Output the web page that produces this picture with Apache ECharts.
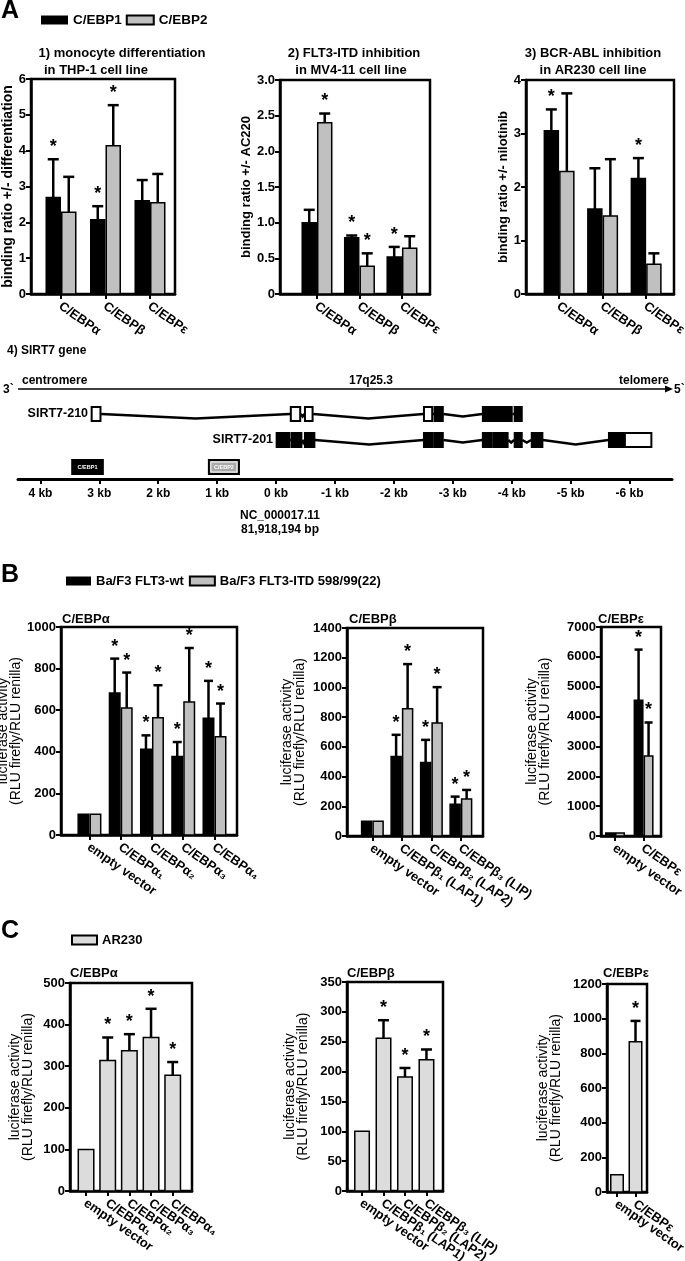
<!DOCTYPE html>
<html><head><meta charset="utf-8">
<script src="https://cdn.jsdelivr.net/npm/echarts@6/dist/echarts.min.js"></script>
<style>html,body{margin:0;padding:0;background:#fff}#c{width:685px;height:1261px}</style>
</head><body><div id="c"></div>
<script>
// ================= DATA =================
// Panel A : binding ratios
const aCats = ['C/EBPα', 'C/EBPβ', 'C/EBPε'];
const a1Ebp1 = [2.69, 2.07, 2.60];
const a1Ebp1Err = [3.76, 2.45, 3.18];
const a1Ebp1Star = [1, 1, 0];
const a1Ebp2 = [2.28, 4.14, 2.55];
const a1Ebp2Err = [3.27, 5.27, 3.35];
const a1Ebp2Star = [0, 1, 0];
const a2Ebp1 = [1.00, 0.79, 0.52];
const a2Ebp1Err = [1.18, 0.82, 0.66];
const a2Ebp1Star = [0, 1, 1];
const a2Ebp2 = [2.40, 0.39, 0.64];
const a2Ebp2Err = [2.53, 0.57, 0.81];
const a2Ebp2Star = [1, 1, 0];
const a3Ebp1 = [3.05, 1.59, 2.16];
const a3Ebp1Err = [3.45, 2.35, 2.54];
const a3Ebp1Star = [1, 0, 1];
const a3Ebp2 = [2.29, 1.46, 0.555];
const a3Ebp2Err = [3.75, 2.52, 0.76];
const a3Ebp2Star = [0, 0, 0];

// Panel A4 : SIRT7 gene (kb)
const kbTicks = [4, 3, 2, 1, 0, -1, -2, -3, -4, -5, -6];
// [from kb, to kb, filled]
const sirt210Exons = [[3.14, 2.97, 0], [-0.24, -0.42, 0], [-0.48, -0.63, 0], [-2.50, -2.66, 0], [-2.68, -2.84, 1], [-3.50, -4.01, 1], [-4.04, -4.18, 1]];
const sirt201Exons = [[0.00, -0.23, 1], [-0.25, -0.44, 1], [-0.48, -0.66, 1], [-2.50, -2.67, 1], [-2.68, -2.84, 1], [-3.50, -3.67, 1], [-3.68, -3.94, 1], [-4.04, -4.18, 1], [-4.33, -4.53, 1], [-5.64, -5.91, 1], [-5.91, -6.38, 0]];
const transcriptNames = ['SIRT7-210', 'SIRT7-201'];
const cebpSiteNames = ['C/EBP1', 'C/EBP2'];
const cebpSiteFrom = [3.46, 1.14];
const cebpSiteTo = [2.94, 0.63];

// Panel B : luciferase, Ba/F3
const bAlphaCats = ['empty vector', 'C/EBPα₁', 'C/EBPα₂', 'C/EBPα₃', 'C/EBPα₄'];
const bAlphaWt = [100, 683, 412, 377, 561];
const bAlphaWtErr = [null, 848, 479, 447, 741];
const bAlphaWtStar = [0, 1, 1, 1, 1];
const bAlphaItd = [100, 611, 564, 639, 472];
const bAlphaItdErr = [null, 781, 720, 899, 632];
const bAlphaItdStar = [0, 1, 1, 1, 1];
const bBetaCats = ['empty vector', 'C/EBPβ₁ (LAP1)', 'C/EBPβ₂ (LAP2)', 'C/EBPβ₃ (LIP)'];
const bBetaWt = [100, 535, 494, 213];
const bBetaWtErr = [null, 681, 647, 265];
const bBetaWtStar = [0, 1, 1, 1];
const bBetaItd = [100, 856, 760, 249];
const bBetaItdErr = [null, 1157, 1002, 310];
const bBetaItdStar = [0, 1, 1, 1];
const bEpsCats = ['empty vector', 'C/EBPε'];
const bEpsWt = [100, 4549];
const bEpsWtErr = [null, 6243];
const bEpsWtStar = [0, 1];
const bEpsItd = [100, 2676];
const bEpsItdErr = [null, 3802];
const bEpsItdStar = [0, 1];

// Panel C : luciferase, AR230
const cAlphaCats = ['empty vector', 'C/EBPα₁', 'C/EBPα₂', 'C/EBPα₃', 'C/EBPα₄'];
const cAlpha = [100, 314, 337, 369, 278];
const cAlphaErr = [null, 369, 377, 438, 310];
const cAlphaStar = [0, 1, 1, 1, 1];
const cBetaCats = ['empty vector', 'C/EBPβ₁ (LAP1)', 'C/EBPβ₂ (LAP2)', 'C/EBPβ₃ (LIP)'];
const cBeta = [100, 256, 191, 220];
const cBetaErr = [null, 286, 206, 237];
const cBetaStar = [0, 1, 1, 1];
const cEpsCats = ['empty vector', 'C/EBPε'];
const cEps = [100, 867];
const cEpsErr = [null, 987];
const cEpsStar = [0, 1];

// ================= STYLE / LAYOUT =================
const FF = '"Liberation Sans", Arial, Helvetica, sans-serif';
const GRAY = '#c0c0c0';
const LIGHT = '#dcdcdc';
const SITE_GRAY = '#a9a9a9';
const LABEL_ROT = -35 * Math.PI / 180;

const option = {
  animation: false,
  backgroundColor: '#fff',
  textStyle: { fontFamily: FF },
  grid: [], xAxis: [], yAxis: [], series: [], graphic: [], legend: []
};

function makeBar(mode, w, fill, capW) {
  return function (params, api) {
    const i = api.value(0), v = api.value(1), e = api.value(2), st = api.value(3);
    const b = api.coord([i, 0]), t = api.coord([i, v]), et = api.coord([i, e]);
    const x0 = mode === 'L' ? b[0] - w : (mode === 'R' ? b[0] : b[0] - w / 2);
    const cx = x0 + w / 2;
    const ch = [];
    let topY = t[1];
    if (et[1] < t[1] - 0.5) {
      ch.push({ type: 'line', shape: { x1: cx, y1: t[1], x2: cx, y2: et[1] }, style: { stroke: '#000', lineWidth: 2.5 } });
      ch.push({ type: 'line', shape: { x1: cx - capW / 2, y1: et[1], x2: cx + capW / 2, y2: et[1] }, style: { stroke: '#000', lineWidth: 2.5 } });
      topY = et[1];
    }
    ch.push({ type: 'rect', shape: { x: x0 + 0.75, y: t[1], width: w - 1.5, height: b[1] - t[1] },
      style: { fill: fill, stroke: '#000', lineWidth: 1.5 } });
    if (st) {
      ch.push({ type: 'text', style: { text: '*', x: cx, y: topY - 3, align: 'center', verticalAlign: 'bottom',
        textAlign: 'center', textVerticalAlign: 'bottom', font: 'bold 18px ' + FF, fill: '#000' } });
    }
    return { type: 'group', children: ch };
  };
}

// rotated category labels placed at each category tick through the axis scale
function makeCatLabels(cats) {
  return function (params, api) {
    const i = api.value(0);
    const p = api.coord([i, 0]);
    return { type: 'text', x: p[0] - 1, y: p[1] + 11, rotation: LABEL_ROT,
      style: { text: cats[i], align: 'left', verticalAlign: 'middle', textAlign: 'left', textVerticalAlign: 'middle',
        font: 'bold 13px ' + FF, fill: '#000' } };
  };
}

function addPanel(cfg) {
  const gi = option.grid.length;
  option.grid.push({ left: cfg.box[0], top: cfg.box[1], width: cfg.box[2], height: cfg.box[3],
    show: true, borderColor: '#000', borderWidth: 2.5, backgroundColor: 'transparent',
    containLabel: false, outerBoundsMode: 'none' });
  const idx = cfg.cats.map((_, i) => i);
  option.xAxis.push({
    type: 'value', gridIndex: gi, min: cfg.xr[0], max: cfg.xr[1],
    axisLine: { show: true, onZero: false, lineStyle: { color: '#000', width: 2.5 } },
    axisTick: { show: true, customValues: idx, length: 5, lineStyle: { color: '#000', width: 2 } },
    axisLabel: { show: false },
    splitLine: { show: false }
  });
  option.yAxis.push({
    type: 'value', gridIndex: gi, min: 0, max: cfg.ymax, interval: cfg.yint,
    name: cfg.yname, nameLocation: 'middle', nameGap: cfg.nameGap,
    nameTextStyle: cfg.nameStyle,
    axisLine: { show: true, onZero: false, lineStyle: { color: '#000', width: 2.5 } },
    axisTick: { show: true, length: 5, lineStyle: { color: '#000', width: 2 } },
    axisLabel: { color: '#000', fontWeight: 'bold', fontSize: 13, fontFamily: FF, margin: 5,
      formatter: cfg.yfmt || (v => String(v)) },
    splitLine: { show: false }
  });
  cfg.series.forEach(s => {
    option.series.push({
      type: 'custom', name: s.name, xAxisIndex: gi, yAxisIndex: gi,
      itemStyle: { color: s.fill },
      renderItem: makeBar(s.mode, cfg.barW, s.fill, cfg.capW),
      data: s.vals.map((v, i) => [i, v, s.err[i] == null ? v : s.err[i], s.star[i]])
    });
  });
  option.series.push({ type: 'custom', name: 'category labels', xAxisIndex: gi, yAxisIndex: gi, silent: true,
    renderItem: makeCatLabels(cfg.cats), data: idx.map(i => [i]) });
}

const nameA = { fontFamily: FF, fontWeight: 'bold', fontSize: 13, color: '#000' };
const nameA1 = { fontFamily: FF, fontWeight: 'bold', fontSize: 14, color: '#000' };
const nameBC = { fontFamily: FF, fontWeight: 'normal', fontSize: 14, lineHeight: 13.5, color: '#000' };
const lucName = 'luciferase activity\n(RLU firefly/RLU renilla)';
const fmt1 = v => (v === 0 ? '0' : v.toFixed(1));

// ---- Panel A ----
addPanel({ box: [31, 79, 144, 215], xr: [-0.674, 2.562], cats: aCats, ymax: 6, yint: 1,
  yname: 'binding ratio +/- differentiation', nameGap: 15, nameStyle: nameA1, barW: 15.5, capW: 11,
  series: [
    { name: 'C/EBP1', mode: 'L', fill: '#000', vals: a1Ebp1, err: a1Ebp1Err, star: a1Ebp1Star },
    { name: 'C/EBP2', mode: 'R', fill: GRAY, vals: a1Ebp2, err: a1Ebp2Err, star: a1Ebp2Star }] });
addPanel({ box: [280, 80, 150, 214], xr: [-0.87, 2.66], cats: aCats, ymax: 3, yint: 0.5, yfmt: fmt1,
  yname: 'binding ratio +/- AC220', nameGap: 24, nameStyle: nameA, barW: 15.5, capW: 11,
  series: [
    { name: 'C/EBP1', mode: 'L', fill: '#000', vals: a2Ebp1, err: a2Ebp1Err, star: a2Ebp1Star },
    { name: 'C/EBP2', mode: 'R', fill: GRAY, vals: a2Ebp2, err: a2Ebp2Err, star: a2Ebp2Star }] });
addPanel({ box: [526, 80, 148, 214], xr: [-0.76, 2.64], cats: aCats, ymax: 4, yint: 1,
  yname: 'binding ratio +/- nilotinib', nameGap: 13, nameStyle: nameA, barW: 15.5, capW: 11,
  series: [
    { name: 'C/EBP1', mode: 'L', fill: '#000', vals: a3Ebp1, err: a3Ebp1Err, star: a3Ebp1Star },
    { name: 'C/EBP2', mode: 'R', fill: GRAY, vals: a3Ebp2, err: a3Ebp2Err, star: a3Ebp2Star }] });

// ---- Panel B ----
addPanel({ box: [61, 627, 176, 208], xr: [-0.91, 4.72], cats: bAlphaCats, ymax: 1000, yint: 200,
  yname: lucName, nameGap: 36, nameStyle: nameBC, barW: 12, capW: 9,
  series: [
    { name: 'Ba/F3 FLT3-wt', mode: 'L', fill: '#000', vals: bAlphaWt, err: bAlphaWtErr, star: bAlphaWtStar },
    { name: 'Ba/F3 FLT3-ITD 598/99(22)', mode: 'R', fill: GRAY, vals: bAlphaItd, err: bAlphaItdErr, star: bAlphaItdStar }] });
addPanel({ box: [347, 628, 136, 208], xr: [-0.86, 3.75], cats: bBetaCats, ymax: 1400, yint: 200,
  yname: lucName, nameGap: 40, nameStyle: nameBC, barW: 11.5, capW: 9,
  series: [
    { name: 'Ba/F3 FLT3-wt', mode: 'L', fill: '#000', vals: bBetaWt, err: bBetaWtErr, star: bBetaWtStar },
    { name: 'Ba/F3 FLT3-ITD 598/99(22)', mode: 'R', fill: GRAY, vals: bBetaItd, err: bBetaItdErr, star: bBetaItdStar }] });
addPanel({ box: [601, 627, 60, 209], xr: [-0.49, 1.61], cats: bEpsCats, ymax: 7000, yint: 1000,
  yname: lucName, nameGap: 49, nameStyle: nameBC, barW: 10, capW: 8,
  series: [
    { name: 'Ba/F3 FLT3-wt', mode: 'L', fill: '#000', vals: bEpsWt, err: bEpsWtErr, star: bEpsWtStar },
    { name: 'Ba/F3 FLT3-ITD 598/99(22)', mode: 'R', fill: GRAY, vals: bEpsItd, err: bEpsItdErr, star: bEpsItdStar }] });

// ---- Panel C ----
addPanel({ box: [70, 983, 122, 208], xr: [-0.74, 4.89], cats: cAlphaCats, ymax: 500, yint: 100,
  yname: lucName, nameGap: 35, nameStyle: nameBC, barW: 17, capW: 11,
  series: [{ name: 'AR230', mode: 'C', fill: LIGHT, vals: cAlpha, err: cAlphaErr, star: cAlphaStar }] });
addPanel({ box: [347, 982, 96, 209], xr: [-0.70, 3.77], cats: cBetaCats, ymax: 350, yint: 50,
  yname: lucName, nameGap: 37, nameStyle: nameBC, barW: 16, capW: 11,
  series: [{ name: 'AR230', mode: 'C', fill: LIGHT, vals: cBeta, err: cBetaErr, star: cBetaStar }] });
addPanel({ box: [607, 984, 40, 208], xr: [-0.54, 1.62], cats: cEpsCats, ymax: 1200, yint: 200,
  yname: lucName, nameGap: 44, nameStyle: nameBC, barW: 14, capW: 10,
  series: [{ name: 'AR230', mode: 'C', fill: LIGHT, vals: cEps, err: cEpsErr, star: cEpsStar }] });

// ---- Panel A4 : gene diagram ----
const geneGrid = option.grid.length;
const geneRowY = [34, 60];   // rows in the hidden 0..99 vertical scale
const siteRowY = 87;
option.grid.push({ left: 18, top: 380, width: 654, height: 99, show: false, containLabel: false, outerBoundsMode: 'none' });
option.xAxis.push({
  type: 'value', gridIndex: geneGrid, inverse: true, min: -6.72, max: 4.38, position: 'bottom',
  axisLine: { show: true, onZero: false, lineStyle: { color: '#000', width: 3 } },
  axisTick: { show: true, customValues: kbTicks, length: 5, lineStyle: { color: '#000', width: 2 } },
  axisLabel: { show: true, customValues: kbTicks, formatter: v => v + ' kb', margin: 9,
    hideOverlap: false, showMinLabel: true, showMaxLabel: true, interval: 0,
    color: '#000', fontWeight: 'bold', fontSize: 12, fontFamily: FF },
  splitLine: { show: false }
});
option.yAxis.push({ type: 'value', gridIndex: geneGrid, min: 0, max: 99, inverse: true, show: false });

function renderTranscript(params, api) {
  const k = api.value(0);
  const exons = k === 0 ? sirt210Exons : sirt201Exons;
  const row = geneRowY[k];
  const y = api.coord([0, row])[1];
  const h = 14;
  const ch = [];
  const boxes = exons.map(ex => {
    const xa = api.coord([ex[0], row])[0], xb = api.coord([ex[1], row])[0];
    return [Math.min(xa, xb), Math.max(xa, xb), ex[2]];
  });
  for (let j = 0; j < boxes.length - 1; j++) {
    const xe = boxes[j][1], xs = boxes[j + 1][0];
    if (xs - xe > 2) {
      const depth = xs - xe > 60 ? 4.5 : 2.5;
      ch.push({ type: 'polyline', shape: { points: [[xe, y], [(xe + xs) / 2, y + depth], [xs, y]] },
        style: { stroke: '#000', lineWidth: 2.5, fill: null } });
    } else {
      ch.push({ type: 'line', shape: { x1: xe, y1: y, x2: xs, y2: y }, style: { stroke: '#000', lineWidth: 2.5 } });
    }
  }
  boxes.forEach(bx => {
    ch.push({ type: 'rect', shape: { x: bx[0] + 0.6, y: y - h / 2, width: bx[1] - bx[0] - 1.2, height: h },
      style: { fill: bx[2] ? '#000' : '#fff', stroke: '#000', lineWidth: 2 } });
  });
  ch.push({ type: 'text', style: { text: transcriptNames[k], x: boxes[0][0] - 3, y: y, align: 'right', verticalAlign: 'middle',
    textAlign: 'right', textVerticalAlign: 'middle', font: 'bold 12.5px ' + FF, fill: '#000' } });
  return { type: 'group', children: ch };
}
option.series.push({ type: 'custom', name: 'transcripts', xAxisIndex: geneGrid, yAxisIndex: geneGrid,
  renderItem: renderTranscript, data: transcriptNames.map((_, i) => [i]) });

function renderSite(params, api) {
  const k = api.value(0);
  const xa = api.coord([cebpSiteFrom[k], siteRowY]), xb = api.coord([cebpSiteTo[k], siteRowY]);
  const x0 = Math.min(xa[0], xb[0]), w = Math.abs(xb[0] - xa[0]);
  const y = xa[1], h = 14;
  const ch = [{ type: 'rect', shape: { x: x0, y: y - h / 2, width: w, height: h },
    style: { fill: k === 0 ? '#000' : SITE_GRAY, stroke: '#000', lineWidth: 2 } }];
  if (k === 1) ch.push({ type: 'rect', shape: { x: x0 + 2, y: y - h / 2 + 2, width: w - 4, height: h - 4 },
    style: { fill: null, stroke: '#fff', lineWidth: 1 } });
  ch.push({ type: 'text', style: { text: cebpSiteNames[k], x: x0 + w / 2, y: y, align: 'center', verticalAlign: 'middle',
    textAlign: 'center', textVerticalAlign: 'middle', font: 'bold 5.5px ' + FF, fill: '#fff' } });
  return { type: 'group', children: ch };
}
option.series.push({ type: 'custom', name: 'sites', xAxisIndex: geneGrid, yAxisIndex: geneGrid,
  renderItem: renderSite, data: cebpSiteNames.map((_, i) => [i]) });

// ---- legends ----
const legText = { fontFamily: FF, fontWeight: 'bold', fontSize: 13, color: '#000' };
option.legend = [
  { left: 41, top: 13, padding: 0, icon: 'rect', itemWidth: 27, itemHeight: 9, itemGap: 4, selectedMode: false,
    textStyle: Object.assign({}, legText, { fontSize: 13.5 }),
    data: [{ name: 'C/EBP1', itemStyle: { color: '#000', borderWidth: 0 } },
           { name: 'C/EBP2', itemStyle: { color: GRAY, borderColor: '#000', borderWidth: 2 } }] },
  { left: 66, top: 574.5, padding: 0, icon: 'rect', itemWidth: 25, itemHeight: 9, itemGap: 5, selectedMode: false, textStyle: legText,
    data: [{ name: 'Ba/F3 FLT3-wt', itemStyle: { color: '#000', borderWidth: 0 } },
           { name: 'Ba/F3 FLT3-ITD 598/99(22)', itemStyle: { color: GRAY, borderColor: '#000', borderWidth: 2 } }] },
  { left: 71, top: 933.5, padding: 0, icon: 'rect', itemWidth: 25, itemHeight: 9, itemGap: 5, selectedMode: false, textStyle: legText,
    data: [{ name: 'AR230', itemStyle: { color: LIGHT, borderColor: '#000', borderWidth: 2 } }] }
];

// ---- free texts ----
function txt(text, x, y, font, align) {
  return { type: 'text', x: x, y: y, silent: true,
    style: { text: text, font: font, fill: '#000', align: align || 'left', verticalAlign: 'middle',
      textAlign: align || 'left', textVerticalAlign: 'middle' } };
}
const big = 'bold 25px ' + FF, t13 = 'bold 13px ' + FF, t12 = 'bold 12px ' + FF;
option.graphic = [
  txt('A', 1, 11, big), txt('B', 1, 575, big), txt('C', 1, 931, big),
  txt('1) monocyte differentiation', 122, 53, t13, 'center'), txt('in THP-1 cell line', 96, 70, t13, 'center'),
  txt('2) FLT3-ITD inhibition', 354, 53, t13, 'center'), txt('in MV4-11 cell line', 351, 70, t13, 'center'),
  txt('3) BCR-ABL inhibition', 593, 53, t13, 'center'), txt('in AR230 cell line', 593, 70, t13, 'center'),
  txt('4) SIRT7 gene', 7, 351, t12),
  txt('3`', 3, 390, t12), txt('5`', 674, 390, t12),
  txt('centromere', 22, 381, t12), txt('17q25.3', 371, 381, t12, 'center'), txt('telomere', 669, 381, t12, 'right'),
  { type: 'line', silent: true, shape: { x1: 18, y1: 389, x2: 667, y2: 389 }, style: { stroke: '#000', lineWidth: 1.5 } },
  { type: 'polygon', silent: true, shape: { points: [[665, 385.5], [673, 389], [665, 392.5]] }, style: { fill: '#000' } },
  txt('NC_000017.11', 280, 516, t12, 'center'), txt('81,918,194 bp', 280, 530, t12, 'center'),
  txt('C/EBPα', 62, 619, t13), txt('C/EBPβ', 349, 619, t13), txt('C/EBPε', 598, 619, t13),
  txt('C/EBPα', 70, 973, t13), txt('C/EBPβ', 347, 973, t13), txt('C/EBPε', 603, 973, t13)
];

const chart = echarts.init(document.getElementById('c'), null, { renderer: 'canvas' });
chart.setOption(option);
</script></body></html>
